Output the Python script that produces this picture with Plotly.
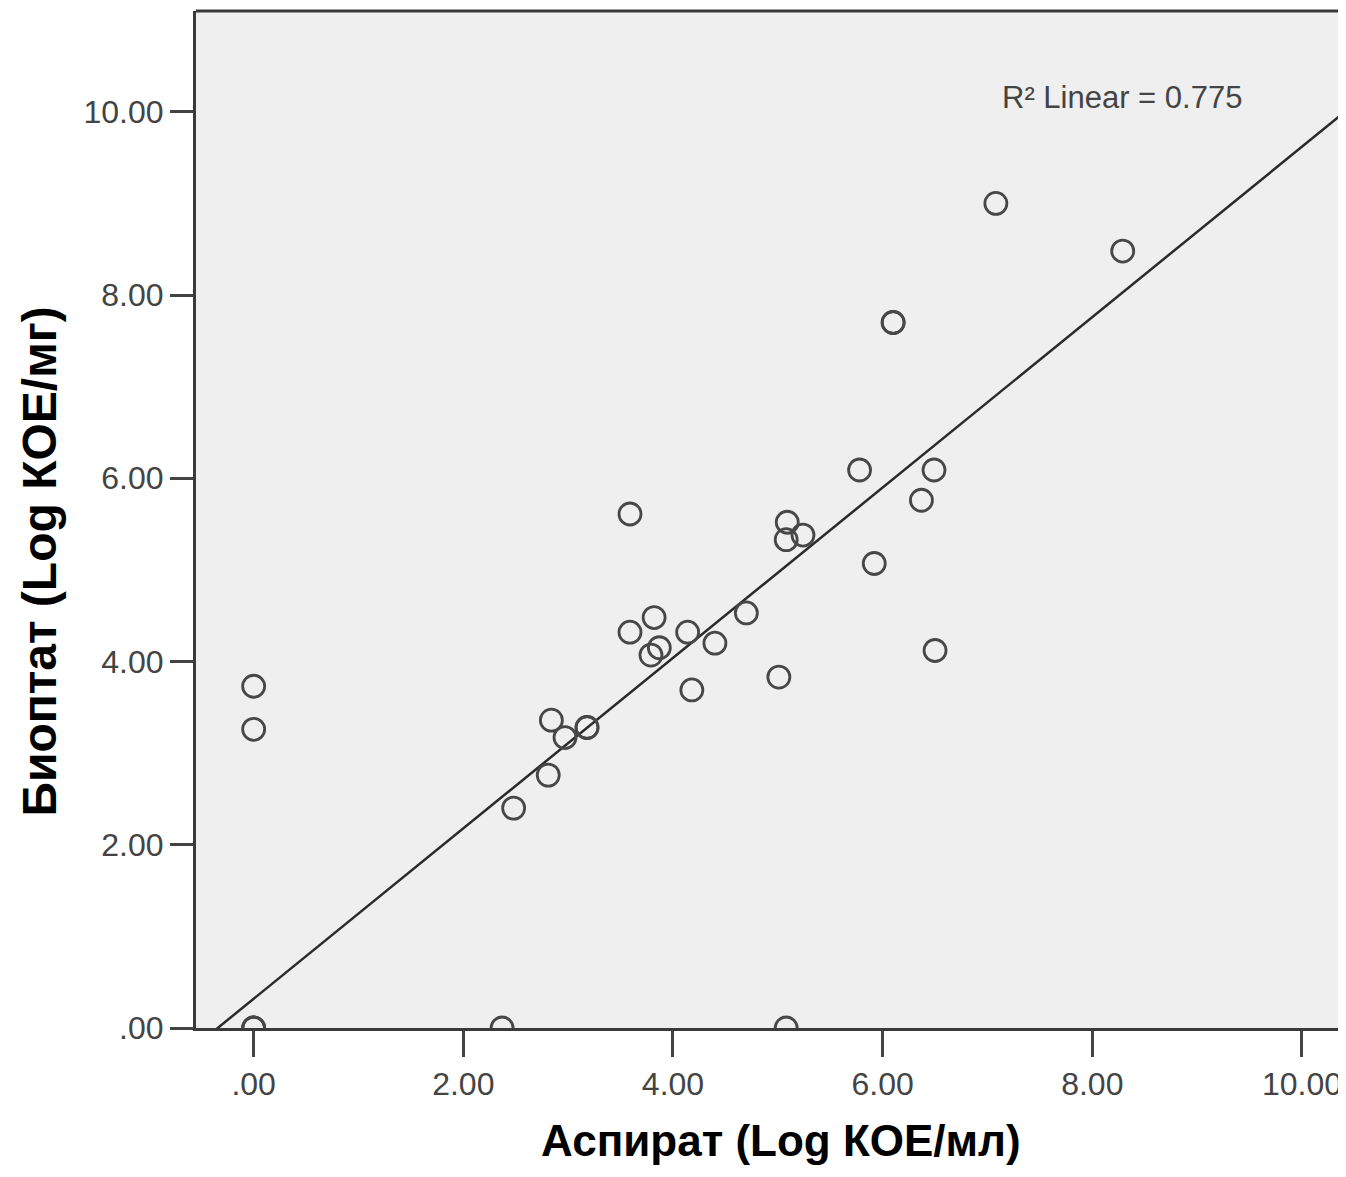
import plotly.graph_objects as go

# Data (Аспират vs Биоптат)
aspirate = [0.0, 0.0, 0.0, 0.0, 0.0, 2.37, 5.08, 2.48, 2.81, 2.84, 2.97, 3.18, 3.18,
            3.59, 3.59, 3.82, 3.79, 3.87, 4.14, 4.18, 4.40, 4.70, 5.01, 5.09, 5.08,
            5.24, 5.78, 5.92, 6.37, 6.49, 6.50, 6.10, 6.10, 7.08, 8.29]
biopsy = [3.73, 3.26, 0.0, 0.0, 0.0, 0.0, 0.0, 2.40, 2.76, 3.36, 3.17, 3.28, 3.28,
          5.61, 4.32, 4.48, 4.07, 4.15, 4.32, 3.69, 4.20, 4.53, 3.83, 5.52, 5.33,
          5.38, 6.09, 5.07, 5.76, 6.09, 4.12, 7.70, 7.70, 9.00, 8.48]

fit_slope = 0.93
fit_intercept = 0.319
r2_text = "R² Linear = 0.775"

tick_vals = [0, 2, 4, 6, 8, 10]
tick_text = [".00", "2.00", "4.00", "6.00", "8.00", "10.00"]

x_title = "Аспират (Log КОЕ/мл)"
y_title = "Биоптат (Log КОЕ/мг)"

x_range = [-0.55, 10.42]
y_range = [0, 11.1]

fig = go.Figure()

fit_x = [x_range[0], x_range[1]]
fit_y = [fit_intercept + fit_slope * v for v in fit_x]
fig.add_trace(go.Scatter(x=fit_x, y=fit_y, mode="lines",
                         line=dict(color="#2a2a2a", width=2.5),
                         showlegend=False, hoverinfo="skip"))

fig.add_trace(go.Scatter(x=aspirate, y=biopsy, mode="markers",
                         marker=dict(symbol="circle-open", size=22,
                                     color="#474747", line=dict(width=2.8, color="#474747")),
                         showlegend=False))

fig.add_annotation(x=7.12, y=10.16, xref="x", yref="y", text=r2_text,
                   showarrow=False, xanchor="left", yanchor="middle",
                   font=dict(family="Liberation Sans, Arial", size=31, color="#444444"))

fig.add_annotation(x=0.5, y=0, xref="paper", yref="paper", text="<b>" + x_title + "</b>",
                   showarrow=False, xanchor="center", yanchor="middle", yshift=-112, xshift=10,
                   font=dict(family="Liberation Sans, Arial", size=44, color="#000000"))
fig.add_annotation(x=0, y=0.5, xref="paper", yref="paper", text="<b>" + y_title + "</b>",
                   showarrow=False, xanchor="center", yanchor="middle", xshift=-157, yshift=-42,
                   textangle=-90,
                   font=dict(family="Liberation Sans, Arial", size=48, color="#000000"))

# top frame line
fig.add_shape(type="line", xref="paper", yref="paper", x0=0, x1=1, y0=1, y1=1,
              line=dict(color="#3a3a3a", width=3))

# page body has an 8px margin, so the figure is sized/offset to land the plot area in place
fig.update_layout(
    width=1338, height=1161,
    margin=dict(l=188, r=0, t=3, b=141),
    paper_bgcolor="white", plot_bgcolor="#efefef",
    font=dict(family="Liberation Sans, Arial", color="#444444"),
)
fig.update_xaxes(range=x_range, tickvals=tick_vals, ticktext=tick_text,
                 showgrid=False, zeroline=False, showline=True, linecolor="#3a3a3a", linewidth=3,
                 ticks="outside", ticklen=26, tickwidth=3, tickcolor="#444444",
                 tickfont=dict(size=32, color="#444444"))
fig.update_yaxes(range=y_range, tickvals=tick_vals, ticktext=tick_text,
                 showgrid=False, zeroline=False, showline=True, linecolor="#3a3a3a", linewidth=3,
                 ticks="outside", ticklen=23, tickwidth=3, tickcolor="#444444",
                 tickfont=dict(size=32, color="#444444"))

fig.write_html("out.html")
